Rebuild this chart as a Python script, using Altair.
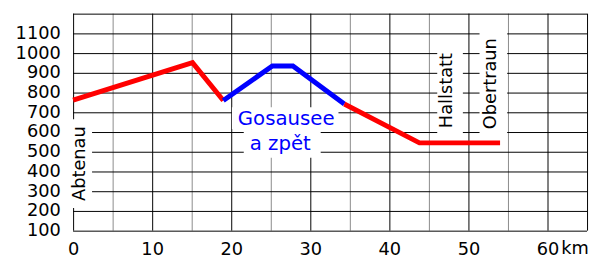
import altair as alt
import pandas as pd

# ---- data ----
red1_km = [0, 15.1, 19.0]
red1_elev = [762, 952, 760]
blue_km = [19.0, 25.2, 27.8, 34.3]
blue_elev = [760, 935, 935, 742]
red2_km = [34.3, 43.8, 54.0]
red2_elev = [742, 545, 545]

ann_text = ["Abtenau", "Hallstatt", "Obertraun"]
ann_km = [0.9, 47.3, 52.9]
ann_elev = [440, 810, 845]

gos_text = ["Gosausee", "a zpět"]
gos_km = [26.95, 26.2]
gos_elev = [635, 510]

x_ticks = list(range(0, 66, 5))
y_ticks = list(range(100, 1201, 100))

FONT = "DejaVu Sans"
FS = 18

rows = []
for k, e in zip(red1_km, red1_elev):
    rows.append({"km": k, "elev": e, "seg": "a", "col": "#ff0000"})
for k, e in zip(blue_km, blue_elev):
    rows.append({"km": k, "elev": e, "seg": "b", "col": "#0000ff"})
for k, e in zip(red2_km, red2_elev):
    rows.append({"km": k, "elev": e, "seg": "c", "col": "#ff0000"})
prof = pd.DataFrame(rows)

ann = pd.DataFrame({"t": ann_text, "km": ann_km, "elev": ann_elev})
gos = pd.DataFrame({"t": gos_text, "km": gos_km, "elev": gos_elev})
km_lab = pd.DataFrame({"t": ["km"], "km": [60], "elev": [100]})

vgrid = pd.DataFrame({
    "km": x_ticks,
    "col": ["#000000" if (v % 10 == 0 or v == 65) else "#8a8a8a" for v in x_ticks],
})
hgrid = pd.DataFrame({"elev": y_ticks})

xs = alt.Scale(domain=[0, 65], nice=False, zero=False)
ys = alt.Scale(domain=[100, 1200], nice=False, zero=False)

xaxis = alt.Axis(
    values=x_ticks, format="d", title=None, domain=False, ticks=False, grid=False,
    labelExpr="datum.value % 10 === 0 ? datum.label : ''",
    labelFont=FONT, labelFontSize=FS, labelColor="#000000", labelPadding=10,
    labelBaseline="top", labelFlush=False, labelOverlap=False,
)
yaxis = alt.Axis(
    values=y_ticks, format="d", title=None, domain=False, ticks=False, grid=False,
    labelExpr="datum.value <= 1100 ? datum.label : ''",
    labelFont=FONT, labelFontSize=FS, labelColor="#000000", labelPadding=13,
    labelFlush=False, labelOverlap=False,
)


def X(f="km:Q"):
    return alt.X(f, scale=xs, axis=xaxis)


def Y(f="elev:Q"):
    return alt.Y(f, scale=ys, axis=yaxis)


vrules = alt.Chart(vgrid).mark_rule(strokeWidth=1, xOffset=0.5).encode(
    x=X(), color=alt.Color("col:N", scale=None),
)
hrules = alt.Chart(hgrid).mark_rule(strokeWidth=1, color="#000000", yOffset=0.5).encode(
    y=Y(),
)

line = alt.Chart(prof).mark_line(strokeWidth=5, strokeJoin="miter").encode(
    x=X(), y=Y(), color=alt.Color("col:N", scale=None), detail="seg:N",
)


def box(src, name, x0, x1, y0, y1):
    return alt.Chart(src).transform_filter(alt.datum.t == name).mark_rect(
        color="white", xOffset=x0, x2Offset=x1, yOffset=y0, y2Offset=y1
    ).encode(x=X(), x2="km:Q", y=Y(), y2="elev:Q")


boxes = [
    box(ann, "Abtenau", -8, 12, -45, 45),
    box(ann, "Hallstatt", -10, 16, -47, 47),
    box(ann, "Obertraun", -12, 16, -57, 54),
    box(gos, "Gosausee", -55, 53, -18, 4),
    box(gos, "a zpět", -37, 41, -21, 8),
]

ann_txt = alt.Chart(ann).mark_text(
    angle=270, align="center", baseline="middle", font=FONT, fontSize=FS, color="#000000"
).encode(x=X(), y=Y(), text="t:N")

gos_txt = alt.Chart(gos).mark_text(
    align="center", baseline="alphabetic", font=FONT, fontSize=20, color="#0000ff"
).encode(x=X(), y=Y(), text="t:N")

km_txt = alt.Chart(km_lab).mark_text(
    align="left", baseline="top", font=FONT, fontSize=FS, color="#000000", dx=14, dy=10
).encode(x=X(), y=Y(), text="t:N")

chart = alt.layer(vrules, hrules, *boxes, line, ann_txt, gos_txt, km_txt).properties(
    width=521, height=220,
    padding={"left": 66, "top": 4, "right": 3, "bottom": 28},
    autosize=alt.AutoSizeParams(type="none"),
    background="white",
).configure_view(stroke=None)

chart.save("out.html", embed_options={"renderer": "svg", "actions": False})
